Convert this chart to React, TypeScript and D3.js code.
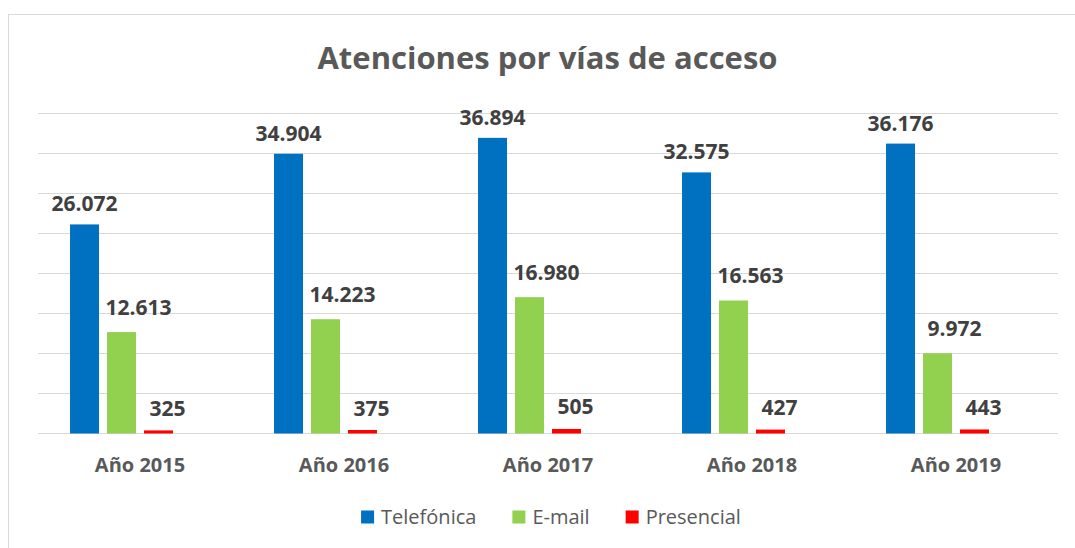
import React, { useEffect, useRef } from "react";
import * as d3 from "d3";

const categories = ["Año 2015", "Año 2016", "Año 2017", "Año 2018", "Año 2019"];
const seriesNames = ["Telefónica", "E-mail", "Presencial"];
const telefonica = [26072, 34904, 36894, 32575, 36176];
const email = [12613, 14223, 16980, 16563, 9972];
const presencial = [325, 375, 505, 427, 443];
const yTicks = [0, 5000, 10000, 15000, 20000, 25000, 30000, 35000, 40000];
const title = "Atenciones por vías de acceso";

const colors = ["#0070C0", "#92D050", "#FF0000"];
const labelDx = [0, 17, 9];
const labelGap = [13, 17.5, 14.5];

const W = 1075;
const H = 548;
const FONT = "'Open Sans', 'DejaVu Sans', sans-serif";

export default function App() {
  const ref = useRef<SVGSVGElement | null>(null);

  useEffect(() => {
    const svg = d3.select(ref.current);
    svg.selectAll("*").remove();
    const series = [telefonica, email, presencial];

    const plotLeft = 38, plotRight = 1058, plotTop = 113, plotBottom = 433;
    const x0 = d3.scaleBand<string>().domain(categories).range([plotLeft, plotRight]).padding(0);
    const bw = x0.bandwidth();
    const slots = d3.scaleBand<number>().domain([0, 1, 2, 3]).range([bw * 0.157, bw * 0.843]).paddingInner(0.216).paddingOuter(0);
    const y = d3.scaleLinear().domain([0, 40000]).range([plotBottom, plotTop]);

    // chart border
    svg.append("rect").attr("x", 8.5).attr("y", 14.5).attr("width", W + 20).attr("height", H + 20)
      .attr("fill", "#fff").attr("stroke", "#D9D9D9").attr("stroke-width", 1);

    // title
    svg.append("text").attr("x", 547.5).attr("y", 69).attr("text-anchor", "middle")
      .attr("font-family", FONT).attr("font-weight", 700).attr("font-size", 31).attr("fill", "#595959")
      .text(title);

    // gridlines
    svg.append("g").selectAll("line").data(yTicks).join("line")
      .attr("x1", plotLeft).attr("x2", plotRight)
      .attr("y1", (d) => Math.round(y(d)) + 0.5).attr("y2", (d) => Math.round(y(d)) + 0.5)
      .attr("stroke", "#D9D9D9").attr("stroke-width", 1);

    // bars
    series.forEach((vals, si) => {
      const g = svg.append("g");
      g.selectAll("rect").data(vals).join("rect")
        .attr("x", (_d, i) => (x0(categories[i]) as number) + (slots(si) as number))
        .attr("width", slots.bandwidth())
        .attr("y", (d) => y(d))
        .attr("height", (d) => plotBottom - y(d) + 0.5)
        .attr("fill", colors[si]);
      g.selectAll("text").data(vals).join("text")
        .attr("x", (_d, i) => (x0(categories[i]) as number) + (slots(si) as number) + slots.bandwidth() / 2 + labelDx[si])
        .attr("y", (d) => y(d) - labelGap[si])
        .attr("text-anchor", "middle")
        .attr("font-family", FONT).attr("font-weight", 700).attr("font-size", 21).attr("fill", "#404040")
        .text((d) => d3.format(",")(d).replace(/,/g, "."));
    });

    // category labels
    svg.append("g").selectAll("text").data(categories).join("text")
      .attr("x", (d) => (x0(d) as number) + bw / 2)
      .attr("y", 472)
      .attr("text-anchor", "middle")
      .attr("font-family", FONT).attr("font-weight", 700).attr("font-size", 20).attr("fill", "#595959")
      .text((d) => d);

    // legend
    const legend = svg.append("g");
    const items = seriesNames.map((name, i) => {
      const g = legend.append("g");
      g.append("rect").attr("x", 0).attr("y", -13).attr("width", 13).attr("height", 13).attr("fill", colors[i]);
      const t = g.append("text").attr("x", 20).attr("y", 0)
        .attr("font-family", FONT).attr("font-size", 20).attr("fill", "#595959").text(name);
      const w = 20 + (t.node() as SVGTextElement).getComputedTextLength();
      return { g, w };
    });
    const gap = 36;
    const total = d3.sum(items, (d) => d.w) + gap * (items.length - 1);
    let cx = 551 - total / 2;
    items.forEach((it) => {
      it.g.attr("transform", `translate(${cx},${523.5})`);
      cx += it.w + gap;
    });
  }, []);

  return (
    <svg ref={ref} width={W} height={H} style={{ position: "absolute", left: 0, top: 0, background: "#fff" }} />
  );
}
